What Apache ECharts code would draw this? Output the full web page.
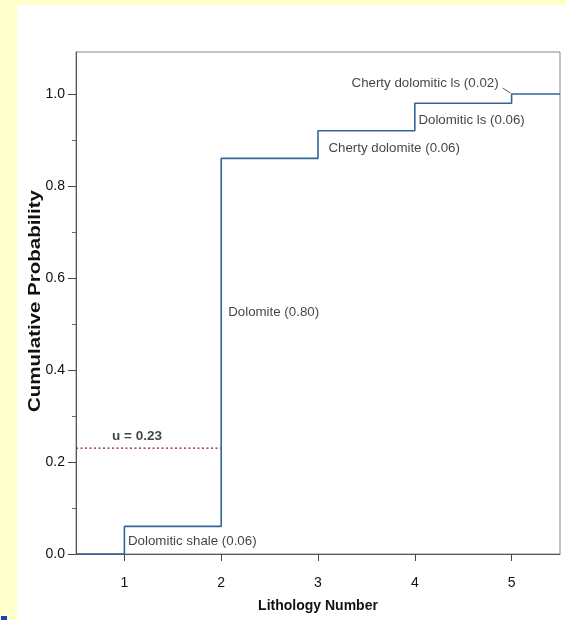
<!DOCTYPE html>
<html><head><meta charset="utf-8">
<script src="https://cdn.jsdelivr.net/npm/echarts@6/dist/echarts.min.js"></script>
<style>html,body{margin:0;padding:0;background:#fff}#c{width:566px;height:620px}</style>
</head><body><div id="c"></div>
<script>
// ---- data ----
const lithologyNumbers = [1, 2, 3, 4, 5];
const lithologyNames = ['Dolomitic shale', 'Dolomite', 'Cherty dolomite', 'Dolomitic ls', 'Cherty dolomitic ls'];
const probabilities = [0.06, 0.80, 0.06, 0.06, 0.02];
const uValue = 0.23;
const xTickValues = [1, 2, 3, 4, 5];
const yTickValues = [0, 0.2, 0.4, 0.6, 0.8, 1.0];
const yMinorTickValues = [0.1, 0.3, 0.5, 0.7, 0.9];

// ---- layout ----
const X_MIN = 0.5, X_MAX = 5.5, Y_MIN = 0, Y_MAX = 1.0913;
const FONT = "'Liberation Sans', Arial, sans-serif";
const labelLayout = [
  { offset: [3.6, 14.6], align: 'left' },
  { offset: [7, 153.6], align: 'left' },
  { offset: [10.4, 17.2], align: 'left' },
  { offset: [3.6, 16.8], align: 'left' },
  { offset: [-13, -11], align: 'right' }
];

const cum = [];
let acc = 0;
probabilities.forEach(p => { acc += p; cum.push(Math.round(acc * 100) / 100); });
const stepPts = [[X_MIN, 0]];
lithologyNumbers.forEach((x, i) => {
  stepPts.push([x, i === 0 ? 0 : cum[i - 1]]);
  stepPts.push([x, cum[i]]);
});
stepPts.push([X_MAX, cum[cum.length - 1]]);

const labelData = lithologyNumbers.map((x, i) => ({
  value: [x, cum[i]],
  label: {
    show: true,
    position: 'inside',
    formatter: lithologyNames[i] + ' (' + probabilities[i].toFixed(2) + ')',
    offset: labelLayout[i].offset,
    align: labelLayout[i].align,
    verticalAlign: 'middle',
    fontFamily: FONT, fontSize: 13.3, color: '#111'
  }
}));

const chart = echarts.init(document.getElementById('c'), null, { renderer: 'canvas' });
const baseGraphic = [
  { type: 'rect', id: 'yl', z: -10, shape: { x: 0, y: 0, width: 17, height: 620 }, style: { fill: '#ffffcc' }, silent: true },
  { type: 'rect', id: 'yt', z: -10, shape: { x: 0, y: 0, width: 566, height: 5 }, style: { fill: '#ffffcc' }, silent: true },
  { type: 'rect', id: 'bm', z: 10, shape: { x: 1, y: 616, width: 6, height: 4 }, style: { fill: '#1a3fc4' }, silent: true },
  { type: 'text', id: 'ytitle', x: 36, y: 301, rotation: Math.PI / 2, scaleX: 1.28, scaleY: 1,
    style: { text: 'Cumulative Probability', font: "bold 16px 'Liberation Sans', Arial, sans-serif",
      fill: '#111', textAlign: 'center', textVerticalAlign: 'middle' } }
];

chart.setOption({
  animation: false,
  backgroundColor: '#fff',
  grid: { left: 76, top: 52, width: 484, height: 502, show: true, borderColor: '#888', borderWidth: 1, backgroundColor: 'transparent' },
  xAxis: {
    type: 'value', min: X_MIN, max: X_MAX,
    name: 'Lithology Number', nameLocation: 'middle', nameGap: 45,
    nameTextStyle: { fontFamily: FONT, fontWeight: 'bold', fontSize: 14, color: '#111' },
    axisLine: { show: true, lineStyle: { color: '#555', width: 1 } },
    axisTick: { show: true, length: 7, customValues: xTickValues, lineStyle: { color: '#444' } },
    axisLabel: { customValues: xTickValues, margin: 22, fontFamily: FONT, fontSize: 14, color: '#111', formatter: v => String(v) },
    splitLine: { show: false }
  },
  yAxis: [{
    type: 'value', min: Y_MIN, max: Y_MAX,
    axisLine: { show: true, lineStyle: { color: '#555', width: 1 } },
    axisTick: { show: true, length: 8, customValues: yTickValues, lineStyle: { color: '#444' } },
    axisLabel: { customValues: yTickValues, margin: 11, fontFamily: FONT, fontSize: 14, color: '#111', formatter: v => v.toFixed(1) },
    splitLine: { show: false }
  }, {
    type: 'value', min: Y_MIN, max: Y_MAX, position: 'left',
    axisLine: { show: false },
    axisTick: { show: true, length: 4, customValues: yMinorTickValues, lineStyle: { color: '#666' } },
    axisLabel: { show: false },
    splitLine: { show: false }
  }],
  series: [{
    type: 'line', data: stepPts, symbol: 'none', z: 3,
    lineStyle: { color: '#34659a', width: 1.6 }
  }, {
    type: 'line', data: [[X_MIN, uValue], [lithologyNumbers[1], uValue]], symbol: 'none', z: 2,
    lineStyle: { color: '#8b1a1a', width: 1.3, type: [2, 2.5] }
  }, {
    type: 'scatter', symbolSize: 0, data: labelData, z: 4, silent: true
  }, {
    type: 'scatter', symbolSize: 0, silent: true,
    data: [{ value: [X_MIN, uValue], label: { show: true, position: 'inside', formatter: 'u = ' + uValue.toFixed(2),
      offset: [36, -12], align: 'left', verticalAlign: 'middle', fontFamily: FONT, fontSize: 13.5, fontWeight: 'bold', color: '#111' } }]
  }],
  graphic: baseGraphic
});

const a = chart.convertToPixel({ gridIndex: 0 }, [lithologyNumbers[4], cum[4]]);
chart.setOption({
  graphic: baseGraphic.concat([{ type: 'line', id: 'lead', shape: { x1: a[0] - 9, y1: a[1] - 6, x2: a[0] - 1, y2: a[1] - 1 },
    style: { stroke: '#8b4a4a', lineWidth: 1 }, silent: true }])
});
</script></body></html>
